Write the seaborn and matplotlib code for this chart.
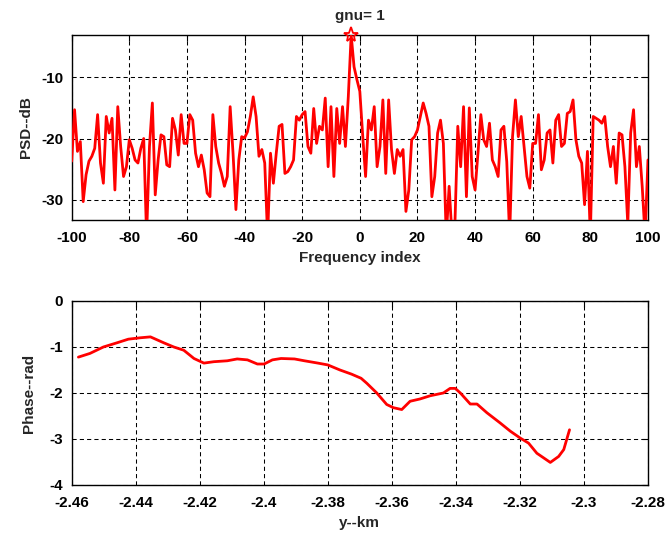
import numpy as np
import pandas as pd
import matplotlib
matplotlib.use("Agg")
import matplotlib.pyplot as plt
import seaborn as sns

# ---- data: top panel (PSD in dB, frequency index -100..100) ----
freq_index = list(range(-100, 101))
psd_neg = [
    -23.7, -15.3, -22.1, -20.5, -30.3, -25.9, -23.7, -22.9, -21.6, -16.1,   # -100..-91
    -24.0, -27.3, -16.4, -19.1, -16.7, -28.4, -14.8, -21.3, -26.2, -24.6,   # -90..-81
    -20.2, -21.6, -23.5, -24.0, -21.6, -20.0, -36.0, -21.3, -14.2, -29.2,   # -80..-71
    -23.5, -19.4, -19.7, -24.3, -24.6, -16.7, -18.6, -22.7, -16.1, -20.8,   # -70..-61
    -20.8, -16.1, -17.0, -22.4, -24.6, -22.7, -25.1, -28.9, -29.5, -16.1,   # -60..-51
    -21.3, -24.0, -25.7, -27.8, -26.2, -14.8, -22.4, -31.6, -23.5, -19.7,   # -50..-41
    -19.9, -18.9, -16.4, -13.2, -16.4, -22.9, -21.8, -24.0, -36.0, -22.4,   # -40..-31
    -27.3, -22.4, -18.0, -17.7, -25.7, -25.4, -24.6, -23.5, -16.4, -17.0,   # -30..-21
    -16.1, -15.6, -21.3, -22.4, -15.1, -20.8, -18.0, -18.6, -13.4, -24.6,   # -20..-11
    -14.8, -26.2, -15.1, -20.8, -14.8, -21.3, -13.2, -3.1, -8.3, -10.4,     # -10..-1
]
psd_pos = [
    -12.3, -19.5, -26.2, -17.0, -18.6, -14.8, -24.6, -21.3, -13.7, -25.7,   # 0..9
    -13.7, -21.8, -25.7, -21.8, -22.9, -21.8, -31.9, -28.4, -20.2, -19.7,   # 10..19
    -18.6, -16.4, -14.2, -15.9, -18.0, -29.5, -26.2, -19.1, -17.0, -20.8,   # 20..29
    -36.0, -27.8, -36.0, -34.0, -18.0, -24.6, -14.8, -29.5, -15.0, -26.2,   # 30..39
    -28.4, -22.4, -16.1, -20.2, -21.3, -17.5, -23.5, -24.6, -26.2, -18.6,   # 40..49
    -18.0, -23.8, -36.0, -19.7, -13.7, -19.7, -16.4, -21.3, -26.2, -28.1,   # 50..59
    -20.8, -20.8, -16.1, -25.1, -23.5, -19.1, -18.6, -24.0, -17.0, -16.1,   # 60..69
    -21.3, -20.8, -15.9, -15.6, -13.7, -20.2, -22.9, -24.0, -30.8, -22.1,   # 70..79
    -36.0, -16.4, -16.7, -17.0, -17.5, -16.4, -21.3, -24.6, -21.3, -27.3,   # 80..89
    -19.1, -19.4, -24.6, -34.0, -19.1, -15.3, -24.6, -21.3, -27.8, -36.0,   # 90..99
    -23.5,                                                                   # 100
]
psd_db = psd_neg + psd_pos
peak_index = -3
peak_db = -3.1

# ---- data: bottom panel (phase vs y in km) ----
y_km = [
    -2.4579, -2.4543, -2.4501, -2.4459, -2.4423, -2.4386, -2.4354, -2.4312,
    -2.4281, -2.4250, -2.4218, -2.4187, -2.4156, -2.4114, -2.4083, -2.4051,
    -2.4020, -2.3999, -2.3973, -2.3946, -2.3904, -2.3873, -2.3831, -2.3800,
    -2.3762, -2.3726, -2.3696, -2.3678, -2.3647, -2.3616, -2.3595, -2.3569,
    -2.3543, -2.3512, -2.3480, -2.3439, -2.3418, -2.3402, -2.3386, -2.3355,
    -2.3334, -2.3303, -2.3262, -2.3230, -2.3199, -2.3173, -2.3147, -2.3105,
    -2.3079, -2.3063, -2.3045,
]
phase_rad = [
    -1.22, -1.14, -1.00, -0.91, -0.83, -0.80, -0.78, -0.91,
    -1.00, -1.07, -1.25, -1.35, -1.32, -1.30, -1.26, -1.28,
    -1.37, -1.37, -1.28, -1.25, -1.26, -1.30, -1.35, -1.39,
    -1.50, -1.59, -1.68, -1.79, -2.00, -2.25, -2.32, -2.36,
    -2.18, -2.13, -2.06, -2.00, -1.90, -1.90, -2.00, -2.24,
    -2.24, -2.43, -2.65, -2.83, -2.98, -3.09, -3.31, -3.51,
    -3.38, -3.23, -2.80,
]

top_xticks = [-100, -80, -60, -40, -20, 0, 20, 40, 60, 80, 100]
top_yticks = [-30, -20, -10]
bot_xticks = [-2.46, -2.44, -2.42, -2.40, -2.38, -2.36, -2.34, -2.32, -2.30, -2.28]
bot_xlabels = ["-2.46", "-2.44", "-2.42", "-2.4", "-2.38", "-2.36", "-2.34", "-2.32", "-2.3", "-2.28"]
bot_yticks = [-4, -3, -2, -1, 0]

# ---- style ----
sns.set_style("white")
plt.rcParams["font.family"] = ["Liberation Sans", "DejaVu Sans"]
plt.rcParams["font.weight"] = "bold"
plt.rcParams["axes.labelweight"] = "bold"

fs = 11
fig = plt.figure(figsize=(6.68, 5.40), dpi=100)
ax1 = fig.add_axes([0.1073, 0.5926, 0.8627, 0.3426])
ax2 = fig.add_axes([0.1073, 0.1019, 0.8627, 0.3407])

df_top = pd.DataFrame({"f": freq_index, "p": psd_db})
df_bot = pd.DataFrame({"y": y_km, "ph": phase_rad})

sns.lineplot(data=df_top, x="f", y="p", ax=ax1, color="red", linewidth=2.0,
             estimator=None, sort=False, zorder=3)
ax1.plot([peak_index], [peak_db], marker="*", markersize=11, mfc="none",
         mec="red", mew=1.3, linestyle="none", clip_on=False, zorder=4)

sns.lineplot(data=df_bot, x="y", y="ph", ax=ax2, color="red", linewidth=2.0,
             estimator=None, sort=False, zorder=3)

grid_kw = dict(color="black", linestyle=(0, (4, 3)), linewidth=0.75)

ax1.set_xlim(-100, 100)
ax1.set_ylim(-33.3, -3.1)
ax1.set_xticks(top_xticks)
ax1.set_xticklabels([str(v) for v in top_xticks])
ax1.set_yticks(top_yticks)
ax1.set_yticklabels([str(v) for v in top_yticks])
ax1.set_xlabel("Frequency index", fontsize=fs, fontweight="bold", labelpad=4)
ax1.set_ylabel("PSD--dB", fontsize=fs, fontweight="bold", labelpad=6)
ax1.set_title("gnu= 1", fontsize=fs, fontweight="bold", pad=11)

ax2.set_xlim(-2.46, -2.28)
ax2.set_ylim(-4, 0)
ax2.set_xticks(bot_xticks)
ax2.set_xticklabels(bot_xlabels)
ax2.set_yticks(bot_yticks)
ax2.set_yticklabels([str(v) for v in bot_yticks])
ax2.set_xlabel("y--km", fontsize=fs, fontweight="bold", labelpad=4)
ax2.set_ylabel("Phase--rad", fontsize=fs, fontweight="bold", labelpad=10)

for ax in (ax1, ax2):
    ax.grid(True, **grid_kw)
    ax.set_axisbelow(True)
    for s in ax.spines.values():
        s.set_color("black")
        s.set_linewidth(1.0)
        s.set_visible(True)
    ax.tick_params(direction="in", length=4, width=0.8, top=True, right=True,
                   labelsize=fs, colors="black")
    ax.tick_params(axis="x", pad=8)
    ax.tick_params(axis="y", pad=6)
    for lab in ax.get_xticklabels() + ax.get_yticklabels():
        lab.set_fontweight("bold")

fig.savefig("out.png", dpi=100, facecolor="white")
